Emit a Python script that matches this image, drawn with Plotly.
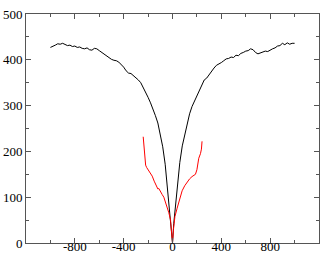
import plotly.graph_objects as go

black_x = [-1000, -980, -960, -940, -920, -900, -880, -860, -840, -820, -800, -780, -760, -740, -720, -700,
           -680, -660, -640, -620, -600, -580, -560, -540, -520, -500, -480, -460, -440, -420, -400, -380,
           -360, -340, -320, -300, -280, -260, -240, -220, -200, -180, -160, -140, -120, -100, -80, -60,
           -40, -20, -10, 0,
           10, 20, 40, 60, 80, 100, 120, 140, 160, 180, 200, 220, 240, 260, 280, 300, 320, 340, 360, 380,
           400, 420, 440, 460, 480, 500, 520, 540, 560, 580, 600, 620, 640, 660, 680, 700, 720, 740, 760,
           780, 800, 820, 840, 860, 880, 900, 920, 940, 960, 980, 1000]
black_y = [427, 429, 432, 435, 434, 436, 433, 431, 432, 429, 430, 427, 428, 425, 424, 426,
           422, 421, 425, 424, 420, 416, 411, 408, 404, 401, 399, 398, 395, 390, 384, 376,
           371, 370, 366, 362, 356, 350, 340, 330, 318, 306, 293, 278, 262, 238, 210, 172,
           116, 70, 44, 0,
           42, 72, 120, 176, 212, 238, 264, 282, 298, 310, 322, 336, 348, 356, 360, 368, 374, 382, 388, 392,
           394, 398, 402, 403, 406, 405, 410, 409, 414, 416, 419, 420, 424, 422, 416, 413, 415, 417, 419,
           418, 422, 424, 426, 430, 431, 436, 433, 437, 434, 436, 436]

red_x = [-240, -236, -232, -226, -220, -212, -200, -190, -180, -166, -150, -135, -120, -112, -100, -85,
         -71, -60, -50, -43, -30, -16, -8, 0,
         8, 20, 38, 55, 79, 100, 120, 140, 160, 175, 188, 200, 215, 229, 237, 242]
red_y = [232, 215, 200, 185, 170, 165, 160, 155, 150, 146, 135, 125, 118, 119, 112, 106,
         100, 92, 85, 79, 66, 50, 30, 0,
         30, 58, 76, 92, 114, 125, 134, 140, 145, 147, 150, 160, 185, 195, 205, 222]

x_ticks = [-800, -400, 0, 400, 800]
y_ticks = [0, 100, 200, 300, 400, 500]

fig = go.Figure()
fig.add_trace(go.Scatter(x=black_x, y=black_y, mode="lines", line=dict(color="black", width=1)))
fig.add_trace(go.Scatter(x=red_x, y=red_y, mode="lines", line=dict(color="red", width=1)))

axis_common = dict(showgrid=False, zeroline=False, showline=True, linecolor="#555", linewidth=1,
                   mirror="allticks", ticks="inside", ticklen=5, tickcolor="#555", automargin=False,
                   tickfont=dict(family="Liberation Serif", size=13, color="black"))
fig.update_xaxes(range=[-1200, 1200], tickvals=x_ticks, ticktext=[str(v) for v in x_ticks],
                 ticklabelstandoff=-9,
                 minor=dict(ticks="inside", ticklen=3, dtick=200, tick0=0, tickcolor="#555"),
                 **axis_common)
fig.update_yaxes(range=[0, 500], tickvals=y_ticks, ticktext=[str(v) for v in y_ticks],
                 minor=dict(ticks="inside", ticklen=3, dtick=50, tick0=0, tickcolor="#555"),
                 **axis_common)
fig.update_layout(width=332, height=256, margin=dict(l=26, r=13, t=14, b=13, autoexpand=False),
                  plot_bgcolor="white", paper_bgcolor="white", showlegend=False)
fig.write_html("out.html", config={"displayModeBar": False},
               post_script="document.body.style.margin='0';document.body.style.overflow='hidden';")
